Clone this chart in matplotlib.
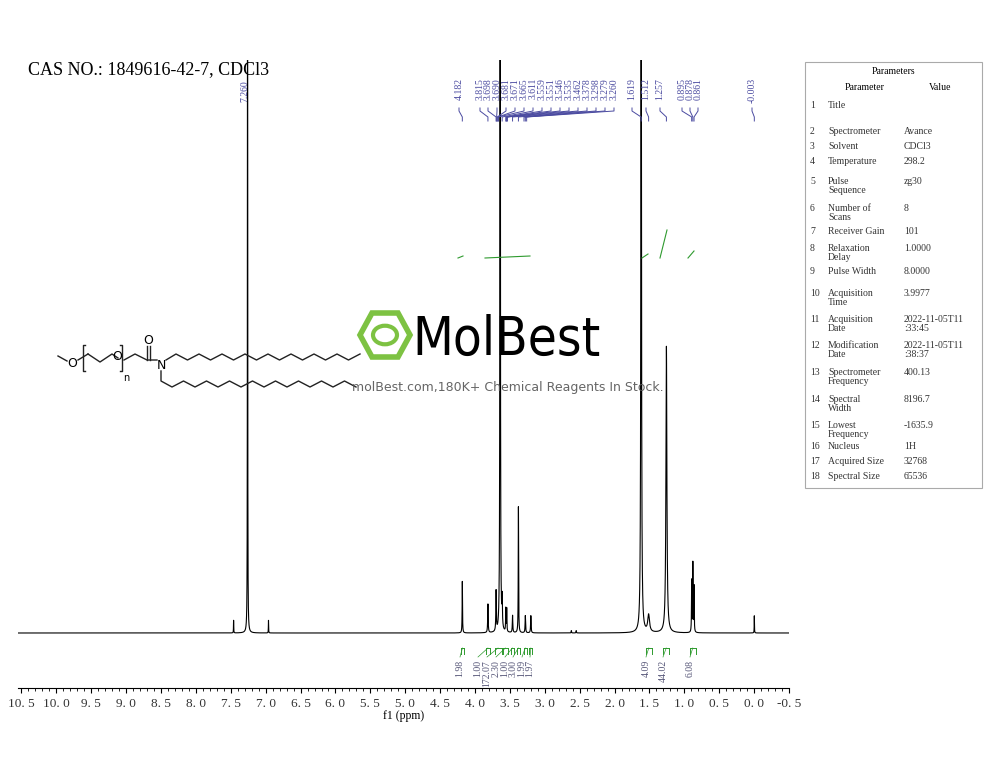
import numpy as np
import matplotlib
matplotlib.use("Agg")
import matplotlib.pyplot as plt

# peaks: shift (ppm), height (1.0 = top of frame), half width (ppm)
peak_ppm = [7.46, 7.26, 6.96, 4.182, 3.815, 3.698, 3.64, 3.611, 3.559, 3.546, 3.462,
            3.378, 3.279, 3.20, 2.62, 2.55, 1.619, 1.512, 1.257, 0.895, 0.878, 0.861, -0.003]
peak_height = [0.022, 1.6, 0.022, 0.09, 0.05, 0.07, 3.0, 0.05, 0.04, 0.04, 0.03,
               0.22, 0.03, 0.03, 0.004, 0.004, 1.4, 0.03, 0.50, 0.09, 0.12, 0.08, 0.03]
peak_width = [0.002, 0.002, 0.002, 0.003, 0.004, 0.004, 0.0025, 0.004, 0.003, 0.003, 0.004,
              0.003, 0.004, 0.004, 0.003, 0.003, 0.005, 0.015, 0.008, 0.003, 0.003, 0.003, 0.002]

peak_labels = ["4.182", "3.815", "3.698", "3.690", "3.681", "3.671", "3.665", "3.611", "3.559",
               "3.551", "3.546", "3.535", "3.462", "3.378", "3.298", "3.279", "3.260",
               "1.619", "1.512", "1.257", "0.895", "0.878", "0.861", "-0.003"]
label_px = [459, 480, 488, 497, 506, 515, 524, 533, 542, 551, 560, 569, 578, 587, 596,
            605, 614, 632, 646, 660, 682, 690, 698, 752]

integral_ppm = [(4.20, 4.16), (3.84, 3.79), (3.72, 3.62), (3.60, 3.53), (3.49, 3.44),
                (3.40, 3.36), (3.30, 3.26), (3.22, 3.18), (1.55, 1.47), (1.30, 1.22), (0.92, 0.84)]
integral_vals = ["1.98", "1.00", "172.07", "2.30", "1.00", "3.00", "1.99", "1.97",
                 "4.09", "44.02", "6.08"]
integral_px = [460, 478, 487, 496, 505, 513, 522, 530, 646, 663, 690]

params = [("1", "Title", ""), ("2", "Spectrometer", "Avance"), ("3", "Solvent", "CDCl3"),
          ("4", "Temperature", "298.2"), ("5", "Pulse\nSequence", "zg30"),
          ("6", "Number of\nScans", "8"), ("7", "Receiver Gain", "101"),
          ("8", "Relaxation\nDelay", "1.0000"), ("9", "Pulse Width", "8.0000"),
          ("10", "Acquisition\nTime", "3.9977"), ("11", "Acquisition\nDate", "2022-11-05T11\n:33:45"),
          ("12", "Modification\nDate", "2022-11-05T11\n:38:37"),
          ("13", "Spectrometer\nFrequency", "400.13"), ("14", "Spectral\nWidth", "8196.7"),
          ("15", "Lowest\nFrequency", "-1635.9"), ("16", "Nucleus", "1H"),
          ("17", "Acquired Size", "32768"), ("18", "Spectral Size", "65536")]

W, H = 1000, 773
fig = plt.figure(figsize=(10, 7.73), dpi=100)
serif = ["Liberation Serif", "DejaVu Serif"]
blue = "#4a4aa0"
green = "#2e9a2e"


def fx(px):
    return px / W


def fy(py):
    return 1 - py / H


# main spectrum axes: left 18, right 789, top 60, bottom 688 (pixels)
ax = fig.add_axes([fx(18), fy(688), fx(789) - fx(18), (688 - 60) / H])
x0, x1 = 10.55, -0.5
ymin = -0.096
ax.set_xlim(x0, x1)
ax.set_ylim(ymin, 1.0)
x = np.linspace(x0, x1, 60000)
y = np.zeros_like(x)
for p, h, w in zip(peak_ppm, peak_height, peak_width):
    y += h * w**2 / ((x - p) ** 2 + w**2)
ax.plot(x, y, color="black", lw=0.8, clip_on=True)
for s in ["top", "right", "left"]:
    ax.spines[s].set_visible(False)
ax.set_yticks([])
ticks = np.arange(10.5, -0.51, -0.5)
ax.set_xticks(ticks)
ax.set_xticks(np.arange(10.5, -0.51, -0.1), minor=True)
ax.tick_params(which="minor", length=2)
ax.set_xticklabels([f"{t:.1f}".replace(".", ". ").replace("-0. 0", "0. 0") for t in ticks],
                   fontfamily=serif, fontsize=9.5, color="#333333")
ax.set_xlabel("f1 (ppm)", fontfamily=serif, fontsize=8.5, labelpad=0)


def ppm_px(p):
    return 18 + (x0 - p) / (x0 - x1) * (789 - 18)


fig.text(fx(245), fy(80), "7.260", rotation=90, ha="center", va="top",
         fontfamily=serif, fontsize=7, color=blue)
targets = [4.182, 3.815, 3.698, 3.690, 3.681, 3.671, 3.665, 3.611, 3.559, 3.551, 3.546,
           3.535, 3.462, 3.378, 3.298, 3.279, 3.260, 1.619, 1.512, 1.257, 0.895, 0.878, 0.861, -0.003]
for lab, px, t in zip(peak_labels, label_px, targets):
    fig.text(fx(px), fy(78), lab, rotation=90, ha="center", va="top",
             fontfamily=serif, fontsize=7, color=blue)
    tp = ppm_px(t)
    fig.add_artist(plt.Line2D([fx(px), fx(px), fx(tp), fx(tp)],
                              [fy(108), fy(111), fy(117), fy(121)],
                              color=blue, lw=0.7))

# integrals
for (a, b), val, px in zip(integral_ppm, integral_vals, integral_px):
    pa, pb = ppm_px(a), ppm_px(b)
    fig.add_artist(plt.Line2D([fx(pa), fx(pb)], [fy(648), fy(648)], color=green, lw=0.7))
    for q in (pa, pb):
        fig.add_artist(plt.Line2D([fx(q), fx(q)], [fy(648), fy(654)], color=green, lw=0.7))
    fig.add_artist(plt.Line2D([fx((pa + pb) / 2), fx(px)], [fy(648), fy(657)], color=green, lw=0.5))
    fig.text(fx(px), fy(660), val, rotation=90, ha="center", va="top",
             fontfamily=serif, fontsize=7, color="#555577")

# faint integral curves
for xs, ys in [([458, 463], [258, 256]), ([485, 530], [258, 256]), ([642, 648], [258, 254]),
               ([660, 667], [258, 230]), ([688, 694], [258, 251])]:
    fig.add_artist(plt.Line2D([fx(v) for v in xs], [fy(v) for v in ys], color=green, lw=0.8))

fig.text(fx(28), fy(70), "CAS NO.: 1849616-42-7, CDCl3", fontfamily=serif, fontsize=13,
         va="center")

# watermark
fig.add_artist(plt.Polygon([[fx(x_), fy(y_)] for x_, y_ in
                            [(360, 335), (372, 313), (398, 313), (410, 335), (398, 357), (372, 357)]],
                           closed=True, fill=False, edgecolor="#7dc242", lw=4))
fig.add_artist(plt.Circle((fx(385), fy(335)), 0.012, fill=False, edgecolor="#7dc242", lw=3))
fig.text(fx(412), fy(340), "MolBest", fontsize=38, va="center", color="black",
         fontfamily="DejaVu Sans", fontstretch="condensed")
fig.text(fx(352), fy(387), "molBest.com,180K+ Chemical Reagents In Stock.", fontsize=9,
         va="center", color="#555555", alpha=0.9)


def poly(pts, lw=1.0):
    fig.add_artist(plt.Line2D([fx(p[0]) for p in pts], [fy(p[1]) for p in pts],
                              color="#222222", lw=lw))


poly([(58, 356), (67, 361)])
fig.text(fx(72), fy(363), "O", fontsize=9, ha="center", va="center")
poly([(78, 360), (88, 354)])
poly([(85, 345), (83, 345), (83, 371), (85, 371)])
poly([(88, 354), (100, 362), (112, 354), (118, 358)])
fig.text(fx(117), fy(357), "O", fontsize=9, ha="center", va="center")
poly([(120, 345), (122, 345), (122, 371), (120, 371)])
fig.text(fx(126), fy(378), "n", fontsize=7, ha="center", va="center")
poly([(124, 360), (135, 354), (147, 360), (157, 360)])
poly([(147, 360), (147, 346)])
poly([(150, 360), (150, 346)])
fig.text(fx(148), fy(340), "O", fontsize=9, ha="center", va="center")
fig.text(fx(161), fy(365), "N", fontsize=9, ha="center", va="center")
top = [(166, 360), (176, 354)]
for i in range(16):
    top.append((176 + 11.5 * (i + 1), 360 if i % 2 == 0 else 354))
poly(top)
bot = [(161, 371), (161, 381), (172, 387)]
for i in range(16):
    bot.append((172 + 11.5 * (i + 1), 381 if i % 2 == 0 else 387))
poly(bot)

# parameters table
tx0, tx1, ty0, ty1 = 805, 982, 62, 488
fig.add_artist(plt.Rectangle((fx(tx0), fy(ty1)), fx(tx1 - tx0), (ty1 - ty0) / H,
                             fill=False, edgecolor="#aaaaaa", lw=0.8))
fig.text(fx(893), fy(72), "Parameters", ha="center", va="center", fontfamily=serif, fontsize=7)
fig.text(fx(865), fy(87), "Parameter", ha="center", va="center", fontfamily=serif, fontsize=7)
fig.text(fx(940), fy(87), "Value", ha="center", va="center", fontfamily=serif, fontsize=7)
rows_y = [106, 132, 147, 162, 182, 209, 232, 249, 272, 294, 320, 346, 373, 400, 426, 447, 462, 477]
for (n, name, val), ry in zip(params, rows_y):
    kw = dict(va="top", fontfamily=serif, fontsize=7, linespacing=1.0, color="#333333")
    fig.text(fx(810), fy(ry - 5), n, **kw)
    fig.text(fx(828), fy(ry - 5), name, **kw)
    fig.text(fx(904), fy(ry - 5), val, **kw)

fig.savefig("out.png", dpi=100)
